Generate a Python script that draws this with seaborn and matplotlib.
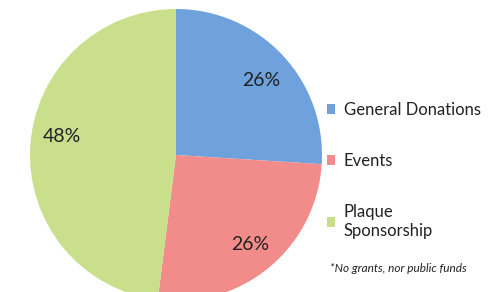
import seaborn as sns
import matplotlib.pyplot as plt

# revenue split
categories = ['General Donations', 'Events', 'Plaque\nSponsorship']
shares = [26, 26, 48]
colors = ['#6fa2dc', '#f28c8a', '#c9df8c']

sns.set_theme(style='white')
plt.rcParams['font.family'] = ['Lato', 'DejaVu Sans']

fig = plt.figure(figsize=(4.99, 2.92), dpi=100)
# pie centre ~ (176,155) px, radius ~146 px, bottom cut off
ax = fig.add_axes([30 / 499, -9 / 292, 292 / 499, 292 / 292])
wedges, texts, autotexts = ax.pie(shares, colors=colors, startangle=90, counterclock=False,
                                  autopct='%d%%', pctdistance=0.8,
                                  wedgeprops=dict(linewidth=0),
                                  textprops=dict(fontsize=14, color='#222222'))
# nudge labels a bit like the original
x, y = autotexts[0].get_position()
autotexts[0].set_position((x, y - 0.04))
x, y = autotexts[2].get_position()
autotexts[2].set_position((x + 0.02, y + 0.075))
ax.set_xlim(-1, 1)
ax.set_ylim(-1, 1)
ax.set_aspect('equal')
ax.axis('off')

fig.legend(wedges, categories, loc='upper left', bbox_to_anchor=(312 / 499, 1 - 87 / 292),
           frameon=False, fontsize=12, handlelength=0.5, handleheight=0.5,
           handletextpad=0.5, labelspacing=2.1, labelcolor='#222222')

fig.text(330 / 499, 1 - 268 / 292, '*No grants, nor public funds', fontsize=8.5,
         style='italic', color='#222222', va='center')

plt.savefig('out.png', dpi=100)
